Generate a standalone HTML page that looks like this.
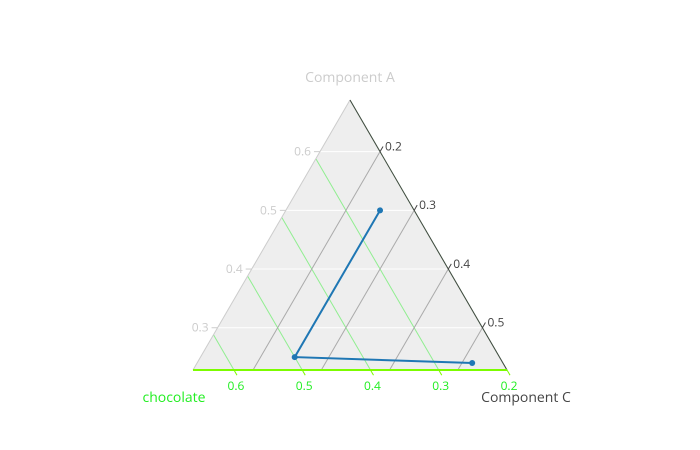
<!DOCTYPE html>
<html><head><meta charset="utf-8"><style>
body{margin:0;background:#fff}
svg{display:block;font-family:"Open Sans","Liberation Sans",sans-serif}
</style></head><body>
<svg id="chart" width="700" height="450"></svg>
<script>
const aVals=[0.5,0.25,0.24];
const bVals=[0.25,0.5,0.245];
const cVals=[0.25,0.25,0.515];
const aTicks=[0.3,0.4,0.5,0.6];
const bTicks=[0.2,0.3,0.4,0.5,0.6];
const cTicks=[0.2,0.3,0.4,0.5];
const amin=0.228,bmin=0.2,cmin=0.112,span=0.46;
const T=[350,100],BL=[193,370],BR=[507,370];
const NS='http://www.w3.org/2000/svg';
const svg=document.getElementById('chart');
function pt(ap,bp,cp){return [ap*T[0]+bp*BL[0]+cp*BR[0],ap*T[1]+bp*BL[1]+cp*BR[1]];}
function mk(tag,attrs,parent){const e=document.createElementNS(NS,tag);for(const k in attrs)e.setAttribute(k,attrs[k]);(parent||svg).appendChild(e);return e;}
const bg=mk('polygon',{points:[T,BL,BR].map(p=>p.join(',')).join(' '),fill:'#eeeeee'});


function line(p,q,stroke,w,name){const l=mk('line',{x1:p[0],y1:p[1],x2:q[0],y2:q[1],stroke:stroke,'stroke-width':w});

return l;}
function text(x,y,s,fill,anchor,size,name){const t=mk('text',{x:x,y:y,fill:fill,'text-anchor':anchor,'font-size':size});t.textContent=s;

return t;}
aTicks.forEach(v=>{const a=(v-amin)/span;const p=pt(a,1-a,0),q=pt(a,0,1-a);
line(p,q,'#fff',1,'a-gridline');line(p,[p[0]-6,p[1]],'#ccc',1,'a-tick');
text(p[0]-9,p[1]+4,v.toFixed(1),'#ccc','end',12,'a-tick-label');});
bTicks.forEach(v=>{const b=(v-bmin)/span;const p=pt(0,b,1-b),q=pt(1-b,b,0);
line(p,q,'#90ee90',1,'b-gridline');
const dx=(p[0]-q[0]),dy=(p[1]-q[1]),L=Math.hypot(dx,dy)||1;
line(p,[p[0]+dx/L*6,p[1]+dy/L*6],'#7cfc00',1,'b-tick');
text(p[0]+2,p[1]+20,v.toFixed(1),'#22ee22','middle',12,'b-tick-label');});
cTicks.forEach(v=>{const c=(v-cmin)/span;const p=pt(1-c,0,c),q=pt(0,1-c,c);
line(p,q,'#aaa',1,'c-gridline');
const dx=(p[0]-q[0]),dy=(p[1]-q[1]),L=Math.hypot(dx,dy)||1;
line(p,[p[0]+dx/L*6,p[1]+dy/L*6],'#444',1,'c-tick');
text(p[0]+dx/L*6+2,p[1]+dy/L*6+4,v.toFixed(1),'#444','start',12,'c-tick-label');});
line(T,BL,'#ccc',1,'a-axis-line');
line(T,BR,'#444',1,'c-axis-line');
line(BL,BR,'#7cfc00',2,'b-axis-line');
const pts=aVals.map((a,i)=>{const sum=a+bVals[i]+cVals[i];
return pt((a/sum-amin)/span,(bVals[i]/sum-bmin)/span,(cVals[i]/sum-cmin)/span);});
const pl=mk('polyline',{points:pts.map(p=>p.join(',')).join(' '),fill:'none',stroke:'#1f77b4','stroke-width':2});


pts.forEach(p=>{const c=mk('circle',{cx:p[0],cy:p[1],r:3,fill:'#1f77b4'});

});
text(350,82,'Component A','#ccc','middle',14,'a-axis-title');
text(174,402,'chocolate','#22ee22','middle',14,'b-axis-title');
text(526,402,'Component C','#444','middle',14,'c-axis-title');
</script>
</body></html>
